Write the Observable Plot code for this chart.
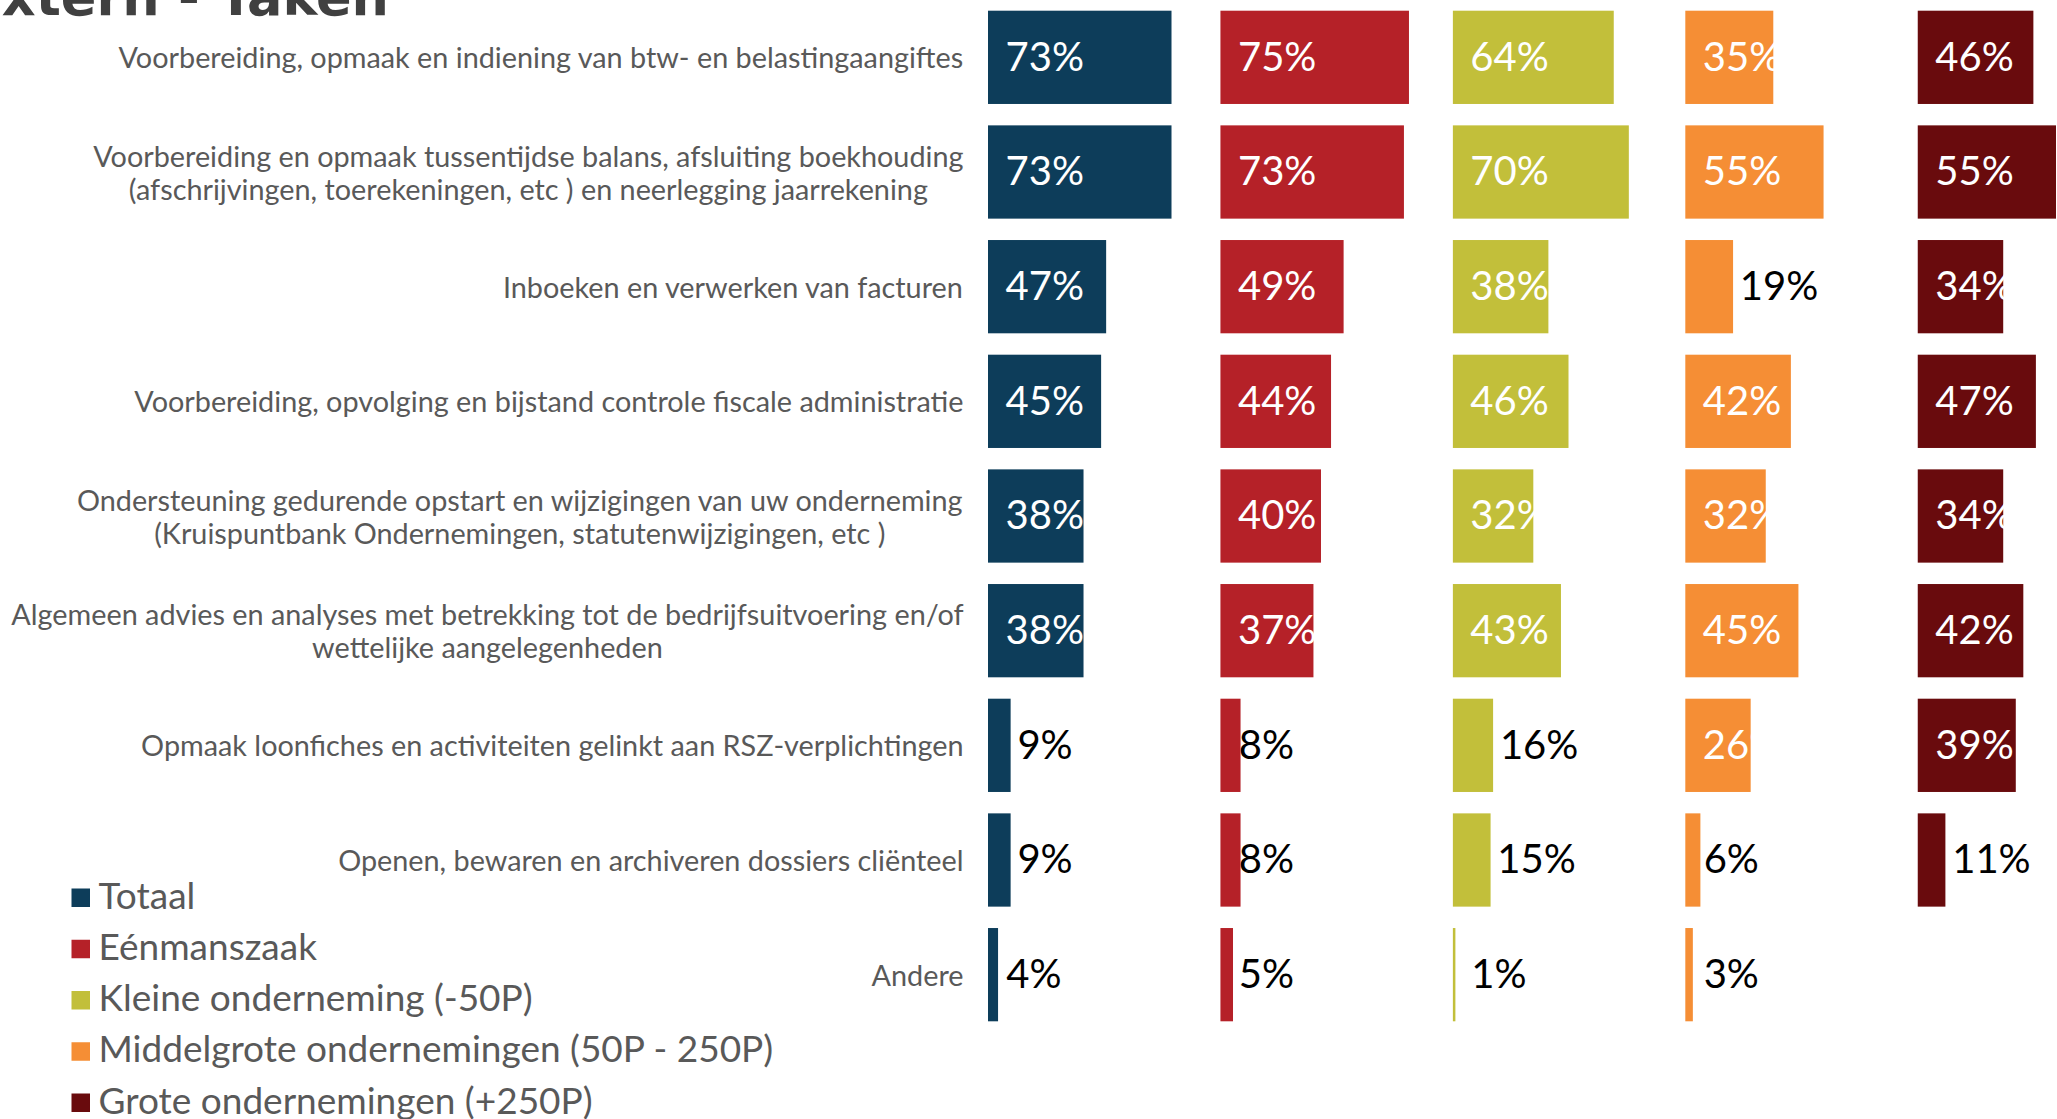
<!DOCTYPE html>
<html>
<head>
<meta charset="utf-8">
<script src="https://cdn.jsdelivr.net/npm/d3@7"></script>
<script src="https://cdn.jsdelivr.net/npm/@observablehq/plot@0.6"></script>
<style>
  html, body { margin: 0; padding: 0; background: #ffffff; overflow: hidden; }
  #wrap { position: relative; width: 2057px; height: 1119px; overflow: hidden; }
  #chart { position: absolute; left: 0; top: 0; }
  #overlay { position: absolute; left: 0; top: 0; pointer-events: none; }
</style>
</head>
<body>
<div id="wrap">
  <div id="chart"></div>
  <svg id="overlay" width="2057" height="1119"></svg>
</div>
<script>
const title = "Extern - Taken";

const categories = [
  "Voorbereiding, opmaak en indiening van btw- en belastingaangiftes",
  "Voorbereiding en opmaak tussentijdse balans, afsluiting boekhouding\n(afschrijvingen, toerekeningen, etc ) en neerlegging jaarrekening",
  "Inboeken en verwerken van facturen",
  "Voorbereiding, opvolging en bijstand controle fiscale administratie",
  "Ondersteuning gedurende opstart en wijzigingen van uw onderneming\n(Kruispuntbank Ondernemingen, statutenwijzigingen, etc )",
  "Algemeen advies en analyses met betrekking tot de bedrijfsuitvoering en/of\nwettelijke aangelegenheden",
  "Opmaak loonfiches en activiteiten gelinkt aan RSZ-verplichtingen",
  "Openen, bewaren en archiveren dossiers cliënteel",
  "Andere"
];

const series = [
  "Totaal",
  "Eénmanszaak",
  "Kleine onderneming (-50P)",
  "Middelgrote ondernemingen (50P - 250P)",
  "Grote ondernemingen (+250P)"
];

const totaal      = [73, 73, 47, 45, 38, 38, 9, 9, 4];
const eenmanszaak = [75, 73, 49, 44, 40, 37, 8, 8, 5];
const kleine      = [64, 70, 38, 46, 32, 43, 16, 15, 1];
const middelgrote = [35, 55, 19, 42, 32, 45, 26, 6, 3];
const grote       = [46, 55, 34, 47, 34, 42, 39, 11, null];

const colors = ["#0d3d5a", "#b52128", "#c2bf3a", "#f58e35", "#690b0d"];

const seriesValues = [totaal, eenmanszaak, kleine, middelgrote, grote];
const rows = [];
categories.forEach((c, i) => {
  series.forEach((s, j) => {
    const v = seriesValues[j][i];
    if (v != null) rows.push({category: c, series: s, value: v});
  });
});

const pct = d => d.value + "%";
const inside = rows.filter(d => d.value > 20);
const outside = rows.filter(d => d.value <= 20);

// measure label lines so that multi-line labels are right-aligned as a block, lines centred
const labelFont = 28.8;
const ctx = document.createElement("canvas").getContext("2d");
ctx.font = `${labelFont}px Lato`;
const blockWidth = s => Math.max(...s.split("\n").map(l => ctx.measureText(l).width));

const labelMarks = categories.map(c => Plot.text([c], {
  fx: () => series[0], y: d => d, frameAnchor: "left",
  text: d => d, textAnchor: "middle", fill: "#595959",
  fontSize: labelFont, lineHeight: 1.15,
  dx: -25 - blockWidth(c) / 2
}));

const chart = Plot.plot({
  width: 2057,
  height: 1119,
  marginLeft: 988,
  marginRight: 1,
  marginTop: 0,
  marginBottom: 87,
  style: {fontFamily: "Lato", background: "#ffffff", overflow: "visible"},
  fx: {domain: series, paddingInner: 0.4052, paddingOuter: 0, round: false, axis: null, label: null},
  x: {domain: [0, 55], axis: null},
  y: {domain: categories, paddingInner: 0.1866, paddingOuter: 0.0933, round: false, axis: null},
  color: {domain: series, range: colors},
  marks: [
    // labels for short bars (drawn beneath the bars)
    Plot.text(outside, {
      fx: "series", y: "category",
      x: d => d.value <= 8 ? 7.1 : d.value + 2.5,
      text: pct, textAnchor: "start", fill: "#000000", fontSize: 40
    }),
    Plot.barX(rows, {fx: "series", y: "category", x: "value", fill: "series"}),
    // labels inside longer bars (inside base)
    Plot.text(inside, {
      fx: "series", y: "category", x: 0, dx: 17,
      text: pct, textAnchor: "start", fill: "#ffffff", fontSize: 40
    }),
    ...labelMarks
  ]
});

document.getElementById("chart").appendChild(chart);

// title (partly cut off at the top) and legend
const overlay = d3.select("#overlay");
overlay.append("text")
  .attr("x", -34).attr("y", 15)
  .attr("font-family", "DejaVu Sans").attr("font-weight", "bold")
  .attr("font-size", 52.5).attr("fill", "#404040")
  .text(title);

const legend = overlay.append("g");
const item = legend.selectAll("g").data(series).join("g")
  .attr("transform", (d, i) => `translate(71.5,${888.5 + i * 51.25})`);
item.append("rect").attr("width", 18.5).attr("height", 18.5)
  .attr("fill", (d, i) => colors[i]);
item.append("text").attr("x", 27).attr("y", 20)
  .attr("font-family", "Lato").attr("font-size", 37).attr("fill", "#595959")
  .text(d => d);
</script>
</body>
</html>
